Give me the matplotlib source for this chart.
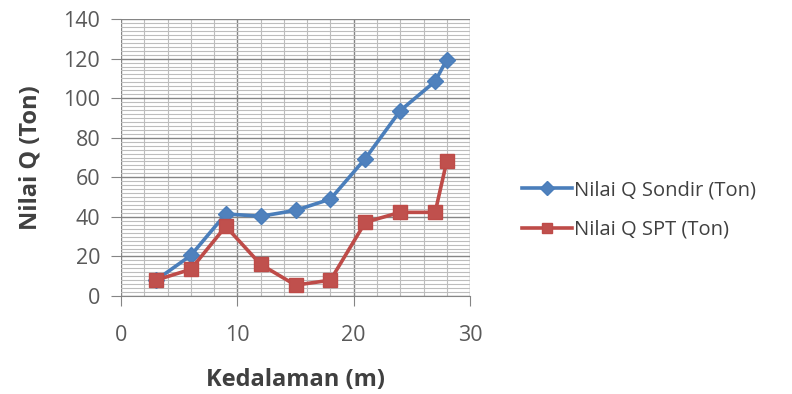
import matplotlib
matplotlib.use("Agg")
import matplotlib.pyplot as plt
from matplotlib.ticker import MultipleLocator

# Depth (m) and bearing capacity values (Ton)
kedalaman = [3, 6, 9, 12, 15, 18, 21, 24, 27, 28]
q_sondir = [8, 20.5, 41.5, 40.3, 43.3, 49, 69.5, 93.7, 108.5, 119.5]
q_spt = [8, 13.5, 35.2, 16, 5.5, 8, 37.3, 42.3, 42.3, 68.2]
x_ticks = [0, 10, 20, 30]
y_ticks = [0, 20, 40, 60, 80, 100, 120, 140]

plt.rcParams["font.family"] = ["Open Sans", "DejaVu Sans"]

fig = plt.figure(figsize=(7.92, 3.94), dpi=100)
ax = fig.add_axes([0.1528, 0.2487, 0.4407, 0.703])

blue = "#4A7EBB"
red = "#BE4B48"

ax.plot(kedalaman, q_sondir, color=blue, lw=2.6, marker="D", ms=8,
        markerfacecolor="#4F81BD", markeredgecolor=blue,
        label="Nilai Q Sondir (Ton)", zorder=3)
ax.plot(kedalaman, q_spt, color=red, lw=2.6, marker="s", ms=10.5,
        markerfacecolor="#C0504D", markeredgecolor=red,
        label="Nilai Q SPT (Ton)", zorder=3)

ax.set_xlim(0, 30)
ax.set_ylim(0, 140)
ax.set_xticks(x_ticks)
ax.set_yticks(y_ticks)
ax.xaxis.set_minor_locator(MultipleLocator(2))
ax.yaxis.set_minor_locator(MultipleLocator(2))

ax.grid(which="major", color="#858585", lw=1.0)
ax.grid(which="minor", color="#BDBDBD", lw=0.8)
ax.set_axisbelow(True)

for side in ("top", "right", "left"):
    ax.spines[side].set_visible(False)
ax.spines["bottom"].set_color("#858585")

ax.tick_params(axis="both", which="major", length=7, color="#858585",
               labelsize=15.5, labelcolor="#595959")
ax.tick_params(axis="x", which="major", pad=14)
ax.tick_params(axis="y", which="major", pad=8)
ax.tick_params(which="minor", length=0)

ax.set_xlabel("Kedalaman (m)", fontsize=17, fontweight="bold",
              color="#404040", va="center")
ax.xaxis.set_label_coords(0.5, -0.303)
ax.set_ylabel("Nilai Q (Ton)", fontsize=17, fontweight="bold",
              color="#404040", va="center")
ax.yaxis.set_label_coords(-0.258, 0.5)

leg = fig.legend(loc="center left", bbox_to_anchor=(0.636, 0.467),
                 frameon=False, fontsize=14.5, handlelength=2.5,
                 handletextpad=0.1, labelspacing=0.95, labelcolor="#404040")
for h in leg.legend_handles:
    h.set_markersize(7)

fig.savefig("out.png", dpi=100)
